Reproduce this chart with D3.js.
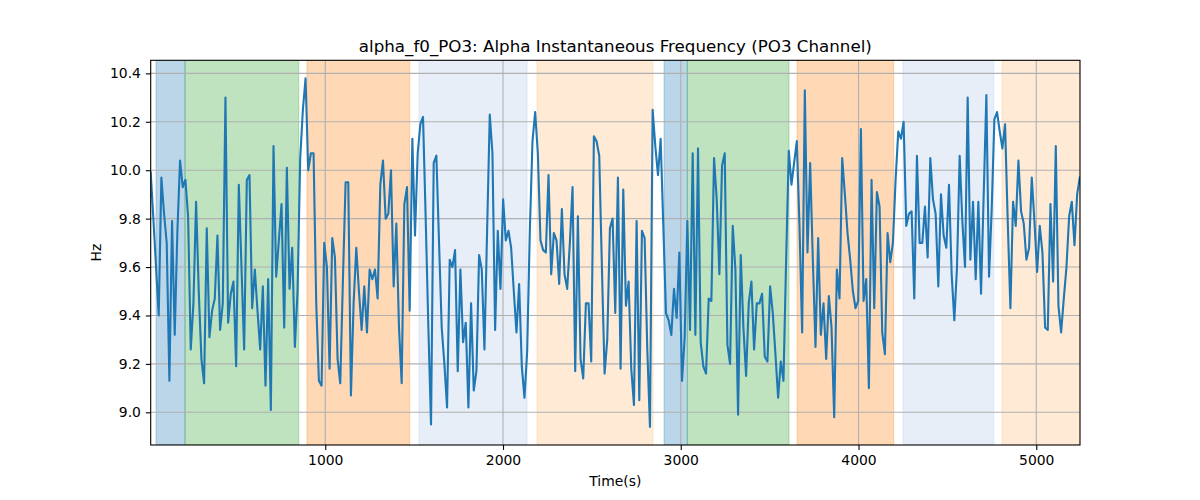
<!DOCTYPE html>
<html>
<head>
<meta charset="utf-8">
<script src="https://cdn.jsdelivr.net/npm/d3@7"></script>
<style>
  body { margin: 0; background: #fff; }
  svg text { font-family: "DejaVu Sans", sans-serif; fill: #000; }
</style>
</head>
<body>
<svg id="chart" width="1200" height="500"></svg>
<script>
// ---- data ----
const title = "alpha_f0_PO3: Alpha Instantaneous Frequency (PO3 Channel)";
const xLabel = "Time(s)";
const yLabel = "Hz";
const xDomain = [18, 5246];
const yDomain = [8.865, 10.454];
const xTicks = [1000, 2000, 3000, 4000, 5000];
const yTicks = [9.0, 9.2, 9.4, 9.6, 9.8, 10.0, 10.2, 10.4];

const tStart = 18;
const tStep = 15.02;

const freqValues = [
  // segment 1
  9.99, 9.80, 9.60, 9.40, 9.97, 9.82, 9.70, 9.13, 9.79, 9.32,
  9.75, 10.04, 9.93, 9.96, 9.81, 9.26, 9.45, 9.87, 9.50, 9.22,
  9.12, 9.76, 9.31, 9.42, 9.47, 9.73, 9.34, 9.45, 10.30, 9.37,
  9.49, 9.54, 9.19, 9.94, 9.60, 9.26, 9.96, 9.98, 9.43, 9.59,
  9.42, 9.26, 9.52, 9.11, 9.55, 9.01, 10.10, 9.56, 9.71, 9.86,
  9.35, 10.01, 9.51, 9.68, 9.27, 9.50, 10.05, 10.25,
  // segment 2
  10.38, 10.00, 10.07, 10.07, 9.45, 9.13, 9.11, 9.70, 9.60, 9.18,
  9.72, 9.64, 9.22, 9.12, 9.55, 9.95, 9.95, 9.07, 9.45, 9.68,
  9.50, 9.34, 9.52, 9.33, 9.59, 9.55, 9.59, 9.47, 9.94, 10.04,
  9.80, 9.82, 10.00, 9.52, 9.78, 9.35, 9.12, 9.86, 9.93, 9.42,
  10.13, 9.73, 10.07, 10.19, 10.22, 9.80, 9.35, 8.95, 10.03, 10.06,
  9.70, 9.35, 9.20, 9.02, 9.63, 9.60, 9.67, 9.17, 9.59,
  // segment 3
  9.29, 9.37, 9.02, 9.45, 9.09, 9.17, 9.65, 9.59, 9.26, 9.75,
  10.23, 10.07, 9.34, 9.75, 9.51, 9.88, 9.71, 9.75, 9.68, 9.50,
  9.33, 9.53, 9.19, 9.06, 9.25, 9.75, 10.12, 10.24, 10.07, 9.71,
  9.67, 9.66, 9.98, 9.57, 9.74, 9.71, 9.53, 9.84, 9.57, 9.51,
  9.70, 9.93, 9.17, 9.81, 9.22, 9.14, 9.45, 9.45, 9.21, 10.14,
  10.12, 10.06, 9.60, 9.16, 9.30, 9.76, 9.80, 9.41,
  // segment 4
  9.97, 9.18, 9.92, 9.44, 9.54, 9.18, 9.03, 9.79, 9.05, 9.75,
  9.72, 9.26, 8.94, 10.25, 10.10, 9.98, 10.13, 9.77, 9.41, 9.38,
  9.32, 9.51, 9.39, 9.66, 9.13, 9.31, 9.79, 9.34, 10.07, 9.32,
  10.09, 9.29, 9.19, 9.16, 9.47, 9.46, 10.05, 9.88, 9.57, 10.02,
  10.07, 9.28, 9.20, 9.77, 9.59, 8.99, 9.65, 9.35, 9.15, 9.45,
  9.54, 9.26, 9.45, 9.45, 9.49, 9.23, 9.21, 9.52,
  // segment 5
  9.41, 9.24, 9.06, 9.21, 9.13, 9.63, 10.08, 9.94, 10.03, 10.12,
  9.77, 9.33, 10.33, 9.66, 10.03, 9.63, 9.27, 9.72, 9.32, 9.45,
  9.22, 9.48, 9.35, 8.98, 9.59, 9.47, 10.05, 9.90, 9.74, 9.63,
  9.50, 9.43, 9.46, 10.17, 9.46, 9.55, 9.10, 9.96, 9.43, 9.91,
  9.85, 9.33, 9.24, 9.74, 9.62, 9.70, 9.96, 10.16, 10.13, 10.20,
  9.77, 9.82, 9.83, 9.47, 10.06, 9.70, 9.70, 9.85,
  // segment 6
  9.64, 10.05, 9.88, 9.82, 9.52, 9.90, 9.73, 9.68, 9.94, 9.57,
  9.38, 9.60, 10.06, 9.79, 9.60, 10.30, 9.63, 9.87, 9.55, 9.87,
  9.49, 9.90, 10.31, 9.56, 9.84, 10.21, 10.24, 10.16, 10.09, 10.19,
  9.79, 9.43, 9.87, 9.77, 10.04, 9.83, 9.78, 9.63, 9.68, 9.97,
  9.79, 9.58, 9.77, 9.66, 9.35, 9.34, 9.86, 9.54, 10.10, 9.44,
  9.33, 9.47, 9.60, 9.81, 9.87, 9.69, 9.90, 9.97
];

const bandStarts = [48, 211, 897, 1527, 2191, 2906, 3037, 3654, 4250, 4807];
const bandEnds   = [211, 851, 1475, 2135, 2844, 3037, 3609, 4198, 4761, 5246];
const bandColors = ["#1f77b4", "#2ca02c", "#ff7f0e", "#aec7e8", "#ffbb78",
                    "#1f77b4", "#2ca02c", "#ff7f0e", "#aec7e8", "#ffbb78"];

// ---- layout ----
const margin = { left: 150.7, right: 1080, top: 60.3, bottom: 445 };
const svg = d3.select("#chart");

const x = d3.scaleLinear().domain(xDomain).range([margin.left, margin.right]);
const y = d3.scaleLinear().domain(yDomain).range([margin.bottom, margin.top]);

const points = freqValues.map((v, i) => ({ t: tStart + i * tStep, v }));

svg.append("defs").append("clipPath").attr("id", "plotclip")
  .append("rect")
  .attr("x", margin.left).attr("y", margin.top)
  .attr("width", margin.right - margin.left)
  .attr("height", margin.bottom - margin.top);

// bands
const bands = bandStarts.map((s, i) => ({ s, e: bandEnds[i], c: bandColors[i] }));
svg.append("g").attr("clip-path", "url(#plotclip)")
  .selectAll("rect").data(bands).join("rect")
  .attr("x", d => x(d.s))
  .attr("y", margin.top)
  .attr("width", d => x(d.e) - x(d.s))
  .attr("height", margin.bottom - margin.top)
  .attr("fill", d => d.c).attr("fill-opacity", 0.3)
  .attr("stroke", d => d.c).attr("stroke-opacity", 0.3).attr("stroke-width", 1);

// grid
const grid = svg.append("g");
grid.selectAll("line.gx").data(xTicks).join("line")
  .attr("x1", d => x(d)).attr("x2", d => x(d))
  .attr("y1", margin.top).attr("y2", margin.bottom)
  .attr("stroke", "#b0b0b0").attr("stroke-width", 1.1);
grid.selectAll("line.gy").data(yTicks).join("line")
  .attr("x1", margin.left).attr("x2", margin.right)
  .attr("y1", d => y(d)).attr("y2", d => y(d))
  .attr("stroke", "#b0b0b0").attr("stroke-width", 1.1);

// line
const line = d3.line().x(d => x(d.t)).y(d => y(d.v));
svg.append("path").datum(points)
  .attr("clip-path", "url(#plotclip)")
  .attr("d", line)
  .attr("fill", "none")
  .attr("stroke", "#1f77b4")
  .attr("stroke-width", 2.1)
  .attr("stroke-linejoin", "round")
  .attr("stroke-linecap", "square");

// axes
const xAxis = d3.axisBottom(x).tickValues(xTicks).tickFormat(d3.format("d"))
  .tickSizeInner(4.9).tickSizeOuter(0).tickPadding(4.9);
const yAxis = d3.axisLeft(y).tickValues(yTicks).tickFormat(d3.format(".1f"))
  .tickSizeInner(4.9).tickSizeOuter(0).tickPadding(4.9);

const gx = svg.append("g").attr("transform", `translate(0,${margin.bottom})`).call(xAxis);
const gy = svg.append("g").attr("transform", `translate(${margin.left},0)`).call(yAxis);
[gx, gy].forEach(g => {
  g.select(".domain").remove();
  g.selectAll(".tick line").attr("stroke", "#000").attr("stroke-width", 1.1);
  g.selectAll(".tick text").attr("font-size", "13.9px").attr("font-family", "DejaVu Sans").attr("fill", "#000");
});

// frame
svg.append("rect")
  .attr("x", margin.left).attr("y", margin.top)
  .attr("width", margin.right - margin.left)
  .attr("height", margin.bottom - margin.top)
  .attr("fill", "none").attr("stroke", "#000").attr("stroke-width", 1.1);

// labels
svg.append("text")
  .attr("x", (margin.left + margin.right) / 2).attr("y", 52)
  .attr("text-anchor", "middle").attr("font-size", "16.7px")
  .text(title);
svg.append("text")
  .attr("x", (margin.left + margin.right) / 2).attr("y", 486)
  .attr("text-anchor", "middle").attr("font-size", "13.9px")
  .text(xLabel);
svg.append("text")
  .attr("transform", `translate(101,${(margin.top + margin.bottom) / 2}) rotate(-90)`)
  .attr("text-anchor", "middle").attr("font-size", "13.9px")
  .text(yLabel);
</script>
</body>
</html>
